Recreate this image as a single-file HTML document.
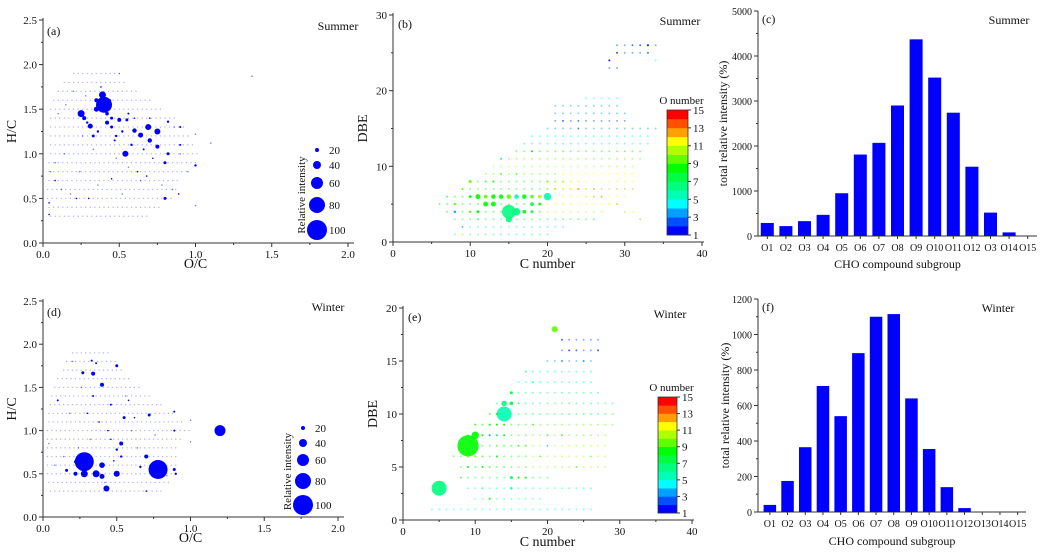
<!DOCTYPE html>
<html><head><meta charset="utf-8">
<style>
html,body{margin:0;padding:0;background:#fff;}
svg{display:block;font-family:"Liberation Serif","DejaVu Serif",serif;}
</style></head>
<body>
<svg id="fig" width="1047" height="558" viewBox="0 0 1047 558" xmlns="http://www.w3.org/2000/svg"></svg>
<script>
// ---------- DATA ----------
const catsSummer = ["O1","O2","O3","O4","O5","O6","O7","O8","O9","O10","O11","O12","O3","O14","O15"];
const valsSummer = [290,220,330,470,950,1810,2070,2900,4370,3520,2740,1540,520,80,0];
const ticksSummer = [0,1000,2000,3000,4000,5000];
const catsWinter = ["O1","O2","O3","O4","O5","O6","O7","O8","O9","O10","O11","O12","O13","O14","O15"];
const valsWinter = [40,175,365,710,540,895,1100,1115,640,355,140,22,0,0,0];
const ticksWinter = [0,200,400,600,800,1000,1200];
// (a) Summer van Krevelen: [O/C, H/C, relative intensity]
const vkSummerOC = [0.40,0.39,0.25,0.27,0.31,0.54,0.69,0.75,0.64,0.60,0.70,0.75,0.82,0.80,0.80,1.00,0.50,0.55,0.35,0.35,0.90,0.90,0.82,0.45,0.42,0.30,0.22,0.08,0.04,0.04,0.45,0.89,1.37,0.50,0.38,0.42,0.45,0.48,0.58,0.66,0.72,0.52,0.47,0.33,0.29,0.36,0.62,0.68,0.85,0.90,1.00,0.12,0.18,0.60,0.70,0.56,0.44,0.38,0.28,0.20,0.15,0.10,0.26,0.33,0.48,0.56,0.64,0.78,0.95,1.10,0.05,0.08,0.14,0.24,0.36,0.52,0.86,1.00];
const vkSummerHC = [1.55,1.66,1.45,1.40,1.31,1.00,1.30,1.25,1.21,1.26,1.15,1.08,1.00,0.90,0.50,0.87,1.38,1.38,1.50,1.60,1.30,1.10,1.36,1.30,1.35,0.50,0.50,0.70,0.32,0.45,0.72,0.55,1.87,1.90,1.50,1.45,1.40,1.20,1.10,1.05,0.95,1.25,1.15,1.20,1.35,1.25,0.80,0.75,0.60,1.00,1.22,0.60,0.55,1.40,1.40,1.45,1.60,1.75,1.65,1.70,1.55,1.45,1.20,1.05,0.95,0.85,0.70,0.65,0.80,1.12,0.80,0.90,1.00,0.80,0.65,0.55,1.30,0.42];
const vkSummerI  = [80,35,35,20,25,30,30,30,25,22,22,20,15,15,15,12,20,15,25,20,10,10,12,15,20,8,8,8,8,8,8,8,6,6,20,18,15,12,12,10,8,12,10,14,12,12,8,8,6,6,5,5,5,8,8,10,10,8,6,6,5,5,6,6,6,6,5,5,4,4,4,4,4,4,4,4,4,4];
const vkSummerRowHC = [1.9,1.8,1.7,1.6,1.5,1.4,1.3,1.2,1.1,1.0,0.9,0.8,0.7,0.6,0.5,0.4,0.3];
const vkSummerRowO0 = [0.20,0.14,0.10,0.07,0.05,0.05,0.05,0.05,0.05,0.05,0.04,0.04,0.04,0.03,0.03,0.04,0.05];
const vkSummerRowO1 = [0.50,0.55,0.62,0.70,0.78,0.88,0.92,0.95,1.00,1.02,1.00,0.95,0.90,0.88,0.85,0.78,0.70];
// (d) Winter van Krevelen
const vkWinterOC = [0.28,0.78,1.20,0.28,0.36,0.50,0.40,0.43,0.40,0.22,0.16,0.22,0.40,0.34,0.50,0.27,0.53,0.70,0.72,0.89,0.90,0.55,0.53,0.50,0.66,0.89,0.89,0.10,0.33,0.36,0.70,0.34,0.46,0.30,0.38,0.44,0.58,0.62,0.46,0.26,0.20,0.18,0.32,0.48,0.60,0.64,0.56,0.42,0.24,0.14,0.08,0.04,1.00,1.00,0.84,0.76];
const vkWinterHC = [0.64,0.55,1.00,0.50,0.50,0.50,0.60,0.33,0.47,0.50,0.54,0.64,1.53,1.66,1.75,1.67,0.85,0.70,1.18,0.55,0.50,1.15,0.70,0.78,0.58,1.22,1.00,1.35,1.81,1.78,0.30,1.40,1.30,1.20,1.10,1.00,1.35,1.15,0.90,1.50,1.80,1.20,0.90,0.65,1.00,0.80,1.40,0.40,0.80,0.70,0.60,0.85,1.12,0.87,0.48,0.95];
const vkWinterI  = [95,95,55,35,35,30,28,30,25,20,15,15,20,20,15,15,20,20,15,15,12,15,12,12,12,10,10,10,10,10,8,10,10,8,8,8,8,8,8,6,6,6,6,8,6,6,6,6,5,5,5,5,5,5,6,5];
const vkWinterRowHC = [1.9,1.8,1.7,1.6,1.5,1.4,1.3,1.2,1.1,1.0,0.9,0.8,0.7,0.6,0.5,0.4,0.3];
const vkWinterRowO0 = [0.20,0.16,0.14,0.10,0.08,0.06,0.05,0.04,0.04,0.03,0.03,0.03,0.03,0.03,0.03,0.04,0.05];
const vkWinterRowO1 = [0.45,0.50,0.55,0.60,0.66,0.72,0.80,0.88,0.95,1.00,0.95,0.92,0.90,0.90,0.90,0.85,0.80];
// (b) Summer DBE vs C: [C, DBE, intensity, O number]
const dbeSummerC = [15,16,15,20,11,12,13,13,14,15,16,17,18,19,12,10,17,18,18,19,10,10,11,8,8,9,18,14,28,33,24,22,24,21,22,23,24,25,26,27,28,29,30,31,32,20,21,22,23,24,25,26,27,14,16,13,12,11,9,9,7,29,29,31,32,33,34];
const dbeSummerD = [4,4,3,6,6,5,5,6,6,6,6,6,6,6,6,8,4,4,5,5,6,4,4,5,4,7,12,11,24,26,16,16,15,7,7,7,7,6,6,6,5,5,4,4,3,8,8,8,8,8,7,7,6,9,9,8,8,3,2,1,6,25,26,26,26,25,24];
const dbeSummerI = [55,30,25,30,20,20,20,18,18,18,18,18,15,15,15,12,15,12,15,12,12,10,12,10,10,8,8,8,8,8,6,5,5,8,8,8,8,6,6,6,5,5,4,4,4,8,8,8,6,6,6,5,5,6,6,8,6,5,4,4,5,5,5,4,4,4,4];
const dbeSummerO = [6,6,6,5,8,8,8,8,8,9,5,8,9,10,9,9,8,7,7,8,8,9,8,9,3,9,8,4,1,1,3,2,2,10,11,11,12,11,12,12,11,12,10,11,12,9,10,10,11,11,11,12,12,8,8,8,8,7,3,11,6,1,2,2,2,2,4];
const dbeSummerRowD  = [1,2,3,4,4,5,5,6,6,7,7,8,8,9,9,10,11,12,13,14,15,16,17,18,19,23,25,26];
const dbeSummerRowC0 = [8,9,8,7,20,6,19,7,21,9,21,10,21,12,22,13,14,16,17,18,20,21,21,21,25,28,29,30];
const dbeSummerRowC1 = [20,22,26,19,27,18,29,20,30,20,31,20,31,21,31,31,32,32,33,33,34,30,30,29,29,29,33,34];
const dbeSummerRowO  = [6,5,7,8,10,8,11,8,11,8,12,8,11,9,11,10,9,8,5,4,3,2,3,3,4,2,2,2];
// (e) Winter DBE vs C
const dbeWinterC = [5,9,14,10,14,15,15,21,15,15,12,11,13,13,12,11,16,17,14,13,12,10,9,9,8,11,13,16,18,17,19,20,22,23,24,25,27,22,14,13,12,11,17,18,16,10,11,12,20,22,24,26];
const dbeWinterD = [3,7,10,8,11,11,12,18,4,3,2,5,6,8,8,8,4,4,8,9,9,9,6,5,4,6,7,11,13,14,6,7,17,16,16,15,16,15,9,10,10,9,7,9,7,6,3,5,8,8,5,6];
const dbeWinterI = [60,85,60,30,22,15,12,25,12,10,8,8,8,8,8,8,8,8,8,8,8,8,8,8,6,6,6,6,6,6,5,5,5,5,5,5,5,5,8,8,6,6,6,6,6,6,5,5,5,5,4,4];
const dbeWinterO = [6,8,5,8,6,7,7,9,6,5,8,8,8,6,3,8,8,8,8,8,8,9,9,8,9,9,9,7,5,5,8,3,2,1,2,2,1,2,8,8,9,9,9,8,8,9,5,9,7,8,8,9];
const dbeWinterRowD  = [1,2,3,4,5,5,6,6,7,7,8,8,9,9,10,11,12,13,14,15,16,17];
const dbeWinterRowC0 = [4,10,9,8,8,18,7,18,8,18,9,18,10,18,12,13,15,16,17,20,22,22];
const dbeWinterRowC1 = [26,19,26,20,17,28,17,28,17,28,17,28,17,29,29,29,27,26,26,26,27,27];
const dbeWinterRowO  = [4,4,5,7,8,10,8,10,8,10,7,9,8,9,7,6,6,5,5,3,2,2];
const legendVals = [20,40,60,80,100];
const oTicks = [1,3,5,7,9,11,13,15];

// ---------- HELPERS ----------
const NS="http://www.w3.org/2000/svg";
const svg=document.getElementById('fig');
function mk(tag,attrs,parent){const e=document.createElementNS(NS,tag);for(const k in attrs)e.setAttribute(k,attrs[k]);(parent||svg).appendChild(e);return e;}
function txt(x,y,s,size,anchor,parent,rot){const t=mk('text',{x:x,y:y,'font-size':size,'text-anchor':anchor||'middle',fill:'#111'},parent);if(rot)t.setAttribute('transform','rotate(-90 '+x+' '+y+')');t.textContent=s;return t;}
const oColors=["#0000ff","#0050ff","#00a0ff","#00ffff","#00ffb4","#00ff80","#00ff40","#00ff00","#60ff00","#b0ff00","#ffff00","#ffa000","#ff5000","#ff0000"];
function oColor(o){return oColors[Math.max(0,Math.min(13,Math.round(o)-1))];}

function axes(g,x0,x1,y0,y1,xt,yt,sx,sy,xfmt,yfmt,xminor,yminor){
  mk('line',{x1:x0,y1:y0,x2:x0,y2:y1,stroke:'#333','stroke-width':1},g);
  mk('line',{x1:x0,y1:y0,x2:x1,y2:y0,stroke:'#333','stroke-width':1},g);
  xt.forEach(v=>{const X=sx(v);mk('line',{x1:X,y1:y0,x2:X,y2:y0+4,stroke:'#333'},g);txt(X,y0+15,xfmt(v),11,'middle',g);});
  yt.forEach(v=>{const Y=sy(v);mk('line',{x1:x0,y1:Y,x2:x0-4,y2:Y,stroke:'#333'},g);txt(x0-6,Y+4,yfmt(v),11,'end',g);});
  (xminor||[]).forEach(v=>{const X=sx(v);mk('line',{x1:X,y1:y0,x2:X,y2:y0+2,stroke:'#333'},g);});
  (yminor||[]).forEach(v=>{const Y=sy(v);mk('line',{x1:x0,y1:Y,x2:x0-2,y2:Y,stroke:'#333'},g);});
}

// ---------- VAN KREVELEN ----------
function vk(name,x0,y0,x1,y1,OC,HC,I,rHC,rO0,rO1,label,season,legX,legY){
  const g=mk('g',{});
  
  
  const sx=v=>x0+v*(x1-x0)/2, sy=v=>y0-v*(y0-y1)/2.5;
  axes(g,x0,x1+6,y0,y1-2,[0,0.5,1,1.5,2],[0,0.5,1,1.5,2,2.5],sx,sy,v=>v.toFixed(1),v=>v.toFixed(1),[0.25,0.75,1.25,1.75],[0.25,0.75,1.25,1.75,2.25]);
  const fg=mk('g',{},g);
  
  
  for(let r=0;r<rHC.length;r++){
    for(let o=rO0[r];o<=rO1[r]+1e-6;o+=0.03){
      const c=mk('circle',{cx:sx(o),cy:sy(rHC[r]),r:0.7,fill:'#0000ff','fill-opacity':0.3},fg);
      
      
    }
  }
  const pg=mk('g',{},g);
  
  
  for(let i=0;i<OC.length;i++){
    const r=Math.max(0.8,I[i]/10);
    const c=mk('circle',{cx:sx(OC[i]),cy:sy(HC[i]),r:r,fill:'#0000ff','fill-opacity':I[i]<8?0.5:1},pg);
    
    
  }
  const lg=mk('g',{},g);
  
  
  legendVals.forEach((v,k)=>{
    mk('circle',{cx:legX,cy:legY[k],r:v/10,fill:'#0000ff'},lg);
    txt(legX+12,legY[k]+4,String(v),11,'start',lg);
  });
  txt(legX-12,(legY[0]+legY[4])/2+5,'Relative intensity',11,'middle',lg,true);
  txt(x0+4,y1+15,label,12,'start',g);
  txt(x1-10,y1+10,season,12,'middle',g);
  const xt=txt((x0+x1)/2,y0+25,'O/C',14,'middle',g); 
  const yt=txt(16,(y0+y1)/2,'H/C',14,'middle',g,true); 
}
vk('panel-a-summer-vk',43,243,348,20,vkSummerOC,vkSummerHC,vkSummerI,vkSummerRowHC,vkSummerRowO0,vkSummerRowO1,'(a)','Summer',317,[150,165,183,205,230]);
vk('panel-d-winter-vk',43,517,338,301,vkWinterOC,vkWinterHC,vkWinterI,vkWinterRowHC,vkWinterRowO0,vkWinterRowO1,'(d)','Winter',303,[428,443,460,481,505]);

// ---------- DBE vs C ----------
function dbe(name,x0,y0,x1,y1,ymax,yticks,C,D,I,O,rD,rC0,rC1,rO,label,season,cb){
  const g=mk('g',{});
  
  
  const sx=v=>x0+v*(x1-x0)/40, sy=v=>y0-v*(y0-y1)/ymax;
  axes(g,x0,x1+2,y0,y1-2,[0,10,20,30,40],yticks,sx,sy,v=>String(v),v=>String(v),[5,15,25,35],yticks.slice(0,-1).map((v,k)=>(v+yticks[k+1])/2));
  const fg=mk('g',{},g);
  
  
  for(let r=0;r<rD.length;r++){
    for(let c=rC0[r];c<=rC1[r];c++){
      const p=mk('circle',{cx:sx(c),cy:sy(rD[r]),r:1,fill:oColor(rO[r]),'fill-opacity':0.45},fg);
      
      
    }
  }
  const pg=mk('g',{},g);
  
  
  for(let i=0;i<C.length;i++){
    const r=Math.max(0.9,I[i]/8);
    const c=mk('circle',{cx:sx(C[i]),cy:sy(D[i]),r:r,fill:oColor(O[i]),'fill-opacity':I[i]<8?0.6:0.9},pg);
    
    
  }
  const cg=mk('g',{},g);
  
  
  const h=(cb.y1-cb.y0)/14;
  oColors.forEach((col,k)=>{mk('rect',{x:cb.x0,y:cb.y1-(k+1)*h,width:cb.x1-cb.x0,height:h+0.3,fill:col},cg);});
  mk('rect',{x:cb.x0,y:cb.y0,width:cb.x1-cb.x0,height:cb.y1-cb.y0,fill:'none',stroke:'#333','stroke-width':0.8},cg);
  oTicks.forEach(v=>{const Y=cb.y1-(v-1)*h;mk('line',{x1:cb.x1,y1:Y,x2:cb.x1+3,y2:Y,stroke:'#333'},cg);txt(cb.x1+5,Y+4,String(v),11,'start',cg);});
  txt((cb.x0+cb.x1)/2+4,cb.y0-6,'O number',11,'middle',cg);
  txt(x0+5,y1+13,label,12,'start',g);
  txt(x1-22,y1+10,season,12,'middle',g);
  const xt=txt((x0+x1)/2,y0+26,'C number',14,'middle',g); 
  const yt=txt(x0-26,(y0+y1)/2,'DBE',14,'middle',g,true); 
}
dbe('panel-b-summer-dbe',393,242,702,15,30,[0,10,20,30],dbeSummerC,dbeSummerD,dbeSummerI,dbeSummerO,dbeSummerRowD,dbeSummerRowC0,dbeSummerRowC1,dbeSummerRowO,'(b)','Summer',{x0:667,x1:688,y0:110,y1:235});
dbe('panel-e-winter-dbe',403,520,692,308,20,[0,5,10,15,20],dbeWinterC,dbeWinterD,dbeWinterI,dbeWinterO,dbeWinterRowD,dbeWinterRowC0,dbeWinterRowC1,dbeWinterRowO,'(e)','Winter',{x0:658,x1:677,y0:397,y1:513});

// ---------- BAR CHARTS ----------
function bars(name,x0,x1,y0,y1,ymax,ticks,cats,vals,slotX0,slot,bw,label,season,titleY,ylabX){
  const g=mk('g',{});
  
  
  const sy=v=>y0-v*(y0-y1)/ymax;
  mk('line',{x1:x0,y1:y0,x2:x0,y2:y1,stroke:'#333'},g);
  mk('line',{x1:x0,y1:y0,x2:x1,y2:y0,stroke:'#333'},g);
  ticks.forEach(v=>{const Y=sy(v);mk('line',{x1:x0,y1:Y,x2:x0-4,y2:Y,stroke:'#333'},g);txt(x0-6,Y+4,String(v),10,'end',g);});
  ticks.slice(0,-1).forEach((v,k)=>{const Y=sy((v+ticks[k+1])/2);mk('line',{x1:x0,y1:Y,x2:x0-2,y2:Y,stroke:'#333'},g);});
  cats.forEach((c,i)=>{
    const cx=slotX0+slot*(i+0.5);
    const b=mk('rect',{x:cx-bw/2,y:sy(vals[i]),width:bw,height:y0-sy(vals[i]),fill:'#0000ff'},g);
    
    
    mk('line',{x1:cx,y1:y0,x2:cx,y2:y0+3,stroke:'#333'},g);
    txt(cx,y0+15,c,10,'middle',g);
  });
  txt(x0+4,y1+12,label,12,'start',g);
  txt(x1-28,y1+13,season,12,'middle',g);
  const xt=txt((x0+x1)/2,titleY,'CHO compound subgroup',12,'middle',g); 
  const yt=txt(ylabX,(y0+y1)/2,'total relative intensity (%)',12,'middle',g,true); 
}
bars('panel-c-summer-bars',758,1037,236,11,5000,ticksSummer,catsSummer,valsSummer,758,18.6,13,'(c)','Summer',268,727);
bars('panel-f-winter-bars',758,1026,512,299,1200,ticksWinter,catsWinter,valsWinter,761,17.7,12.5,'(f)','Winter',545,729);
</script>
</body></html>
